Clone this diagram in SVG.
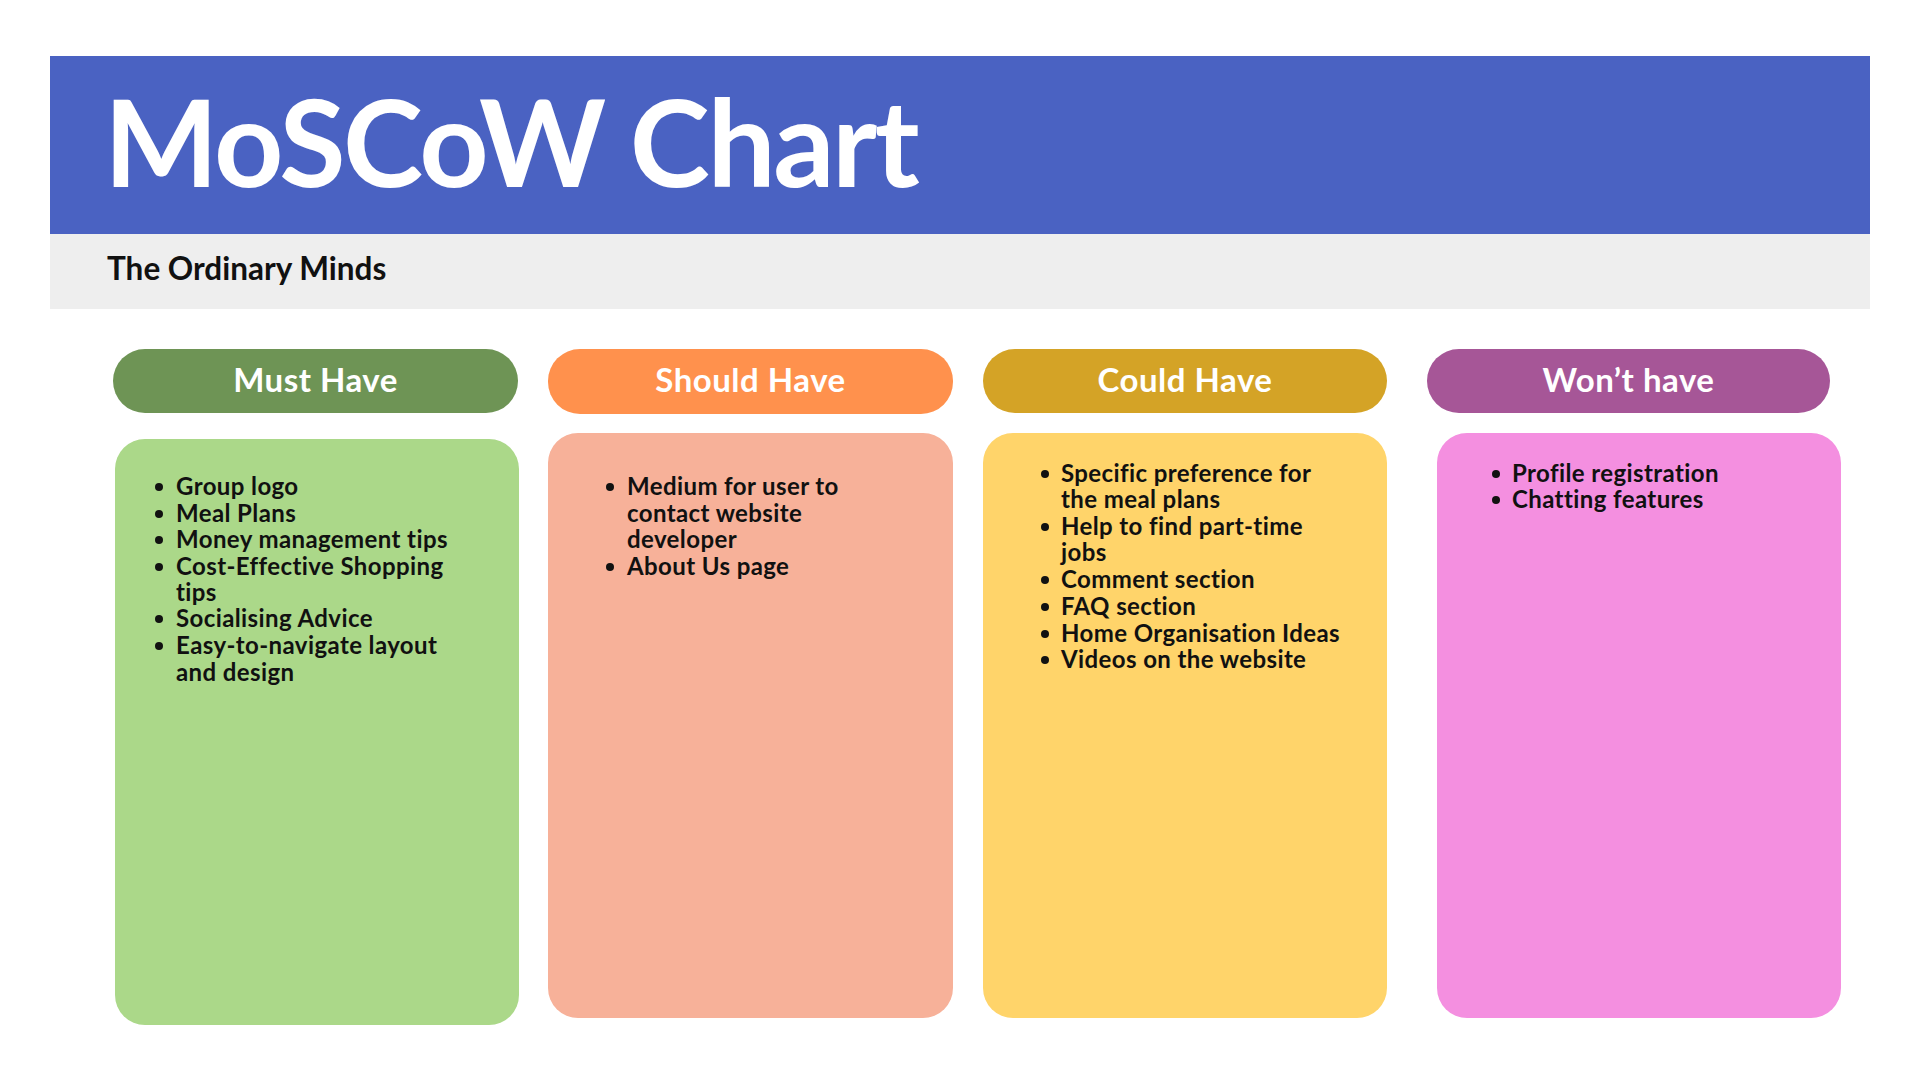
<svg xmlns="http://www.w3.org/2000/svg" width="1920" height="1080" viewBox="0 0 1920 1080">
  <style>
    .title { font-family: Lato, "Open Sans", sans-serif; font-weight: 700; font-size: 121px; letter-spacing: -2.5px; fill: #ffffff; }
    .subtitle { font-family: Lato, "Open Sans", sans-serif; font-weight: 700; font-size: 31.5px; letter-spacing: 0px; fill: #111111; }
    .head { font-family: Lato, "Open Sans", sans-serif; font-weight: 700; font-size: 33px; letter-spacing: 0.5px; fill: #ffffff; text-anchor: middle; }
    .item { font-family: Lato, "Open Sans", sans-serif; font-weight: 700; font-size: 24px; letter-spacing: 0.4px; fill: #111111; }
    .dot { fill: #111111; }
  </style>

  <rect width="1920" height="1080" fill="#ffffff"/>

  <!-- banner -->
  <g id="banner">
    <rect x="50" y="56" width="1820" height="178" fill="#4A62C2"/>
    <rect x="50" y="234" width="1820" height="75" fill="#EEEEEE"/>
    <text class="title" x="104" y="187">MoSCoW Chart</text>
    <text class="subtitle" x="107" y="280">The Ordinary Minds</text>
  </g>

  <!-- Must Have -->
  <g id="must-have">
    <rect x="113" y="349" width="405" height="64" rx="32" fill="#6E9455"/>
    <text class="head" x="315.5" y="392">Must Have</text>
    <rect x="115" y="439" width="404" height="586" rx="30" fill="#ABD889"/>
    <g class="dot">
      <circle cx="159" cy="487" r="4"/>
      <circle cx="159" cy="514" r="4"/>
      <circle cx="159" cy="540" r="4"/>
      <circle cx="159" cy="567" r="4"/>
      <circle cx="159" cy="619" r="4"/>
      <circle cx="159" cy="646" r="4"/>
    </g>
    <text class="item" x="176" y="495">Group logo</text>
    <text class="item" x="176" y="522">Meal Plans</text>
    <text class="item" x="176" y="548">Money management tips</text>
    <text class="item" x="176" y="575">Cost-Effective Shopping</text>
    <text class="item" x="176" y="601">tips</text>
    <text class="item" x="176" y="627">Socialising Advice</text>
    <text class="item" x="176" y="654">Easy-to-navigate layout</text>
    <text class="item" x="176" y="681">and design</text>
  </g>

  <!-- Should Have -->
  <g id="should-have">
    <rect x="548" y="349" width="405" height="65" rx="32" fill="#FF914D"/>
    <text class="head" x="750.5" y="392">Should Have</text>
    <rect x="548" y="433" width="405" height="585" rx="30" fill="#F7B199"/>
    <g class="dot">
      <circle cx="610" cy="487" r="4"/>
      <circle cx="610" cy="567" r="4"/>
    </g>
    <text class="item" x="627" y="495">Medium for user to</text>
    <text class="item" x="627" y="522">contact website</text>
    <text class="item" x="627" y="548">developer</text>
    <text class="item" x="627" y="575">About Us page</text>
  </g>

  <!-- Could Have -->
  <g id="could-have">
    <rect x="983" y="349" width="404" height="64" rx="32" fill="#D4A326"/>
    <text class="head" x="1185" y="392">Could Have</text>
    <rect x="983" y="433" width="404" height="585" rx="30" fill="#FFD46A"/>
    <g class="dot">
      <circle cx="1045" cy="474" r="4"/>
      <circle cx="1045" cy="527" r="4"/>
      <circle cx="1045" cy="580" r="4"/>
      <circle cx="1045" cy="607" r="4"/>
      <circle cx="1045" cy="634" r="4"/>
      <circle cx="1045" cy="660" r="4"/>
    </g>
    <text class="item" x="1061" y="482">Specific preference for</text>
    <text class="item" x="1061" y="508">the meal plans</text>
    <text class="item" x="1061" y="535">Help to find part-time</text>
    <text class="item" x="1061" y="561">jobs</text>
    <text class="item" x="1061" y="588">Comment section</text>
    <text class="item" x="1061" y="615">FAQ section</text>
    <text class="item" x="1061" y="642">Home Organisation Ideas</text>
    <text class="item" x="1061" y="668">Videos on the website</text>
  </g>

  <!-- Won't have -->
  <g id="wont-have">
    <rect x="1427" y="349" width="403" height="64" rx="32" fill="#A65697"/>
    <text class="head" x="1628.5" y="392">Won’t have</text>
    <rect x="1437" y="433" width="404" height="585" rx="30" fill="#F48FE0"/>
    <g class="dot">
      <circle cx="1496" cy="474" r="4"/>
      <circle cx="1496" cy="500" r="4"/>
    </g>
    <text class="item" x="1512" y="482">Profile registration</text>
    <text class="item" x="1512" y="508">Chatting features</text>
  </g>
</svg>
